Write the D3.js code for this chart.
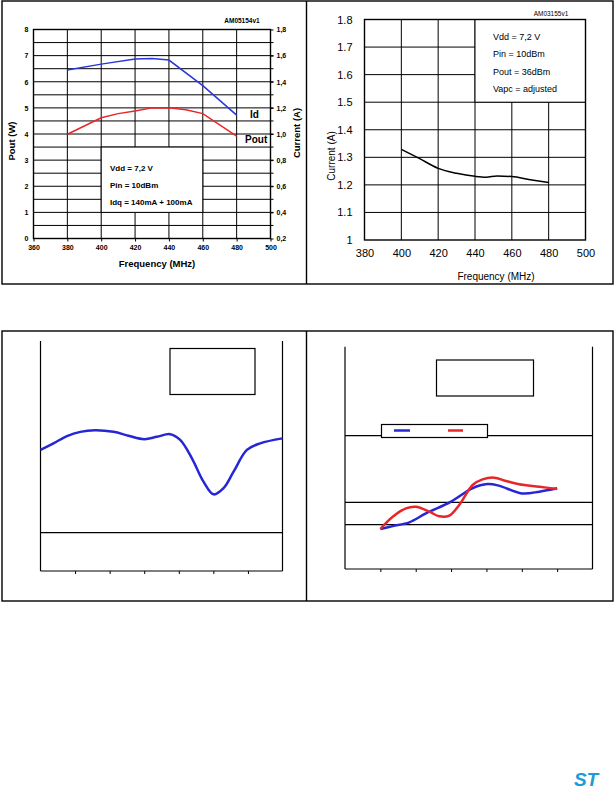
<!DOCTYPE html>
<html>
<head>
<meta charset="utf-8">
<script src="https://cdn.jsdelivr.net/npm/d3@7"></script>
<style>
body { margin: 0; background: #fff; }
svg { display: block; font-family: "Liberation Sans", Arial, sans-serif; }
.frame { fill: none; stroke: #000; stroke-width: 1.4; }
.grid line { stroke: #000; stroke-width: 1; }
.ax text { fill: #000; }
</style>
</head>
<body>
<svg width="615" height="791"></svg>
<script>

// ---- top left: Pout and Id vs frequency ----
var poutFreq = [380, 400, 410, 420, 430, 440, 450, 460, 480];
var poutW    = [3.99, 4.62, 4.78, 4.88, 5.0, 5.0, 4.93, 4.78, 3.92];
var idFreq   = [380, 400, 420, 430, 440, 460, 480];
var idAmp    = [1.49, 1.535, 1.575, 1.578, 1.566, 1.37, 1.145];
var tlXTicks = [360, 380, 400, 420, 440, 460, 480, 500];
var tlWTicks = [0, 1, 2, 3, 4, 5, 6, 7, 8];
var tlATicks = ["0,2", "0,4", "0,6", "0,8", "1,0", "1,2", "1,4", "1,6", "1,8"];
var tlNotes  = ["Vdd = 7,2 V", "Pin = 10dBm", "Idq = 140mA + 100mA"];

// ---- top right: current vs frequency ----
var curFreq  = [400, 410, 420, 430, 440, 446, 452, 460, 470, 480];
var curAmp   = [1.329, 1.295, 1.26, 1.242, 1.231, 1.228, 1.232, 1.23, 1.219, 1.209];
var trXTicks = [380, 400, 420, 440, 460, 480, 500];
var trYTicks = [1, 1.1, 1.2, 1.3, 1.4, 1.5, 1.6, 1.7, 1.8];
var trNotes  = ["Vdd = 7,2 V", "Pin = 10dBm", "Pout = 36dBm", "Vapc = adjusted"];

// ---- bottom left (labels missing in source) ----
var blFreq  = [380, 387.5, 395.3, 403, 411.6, 422.2, 430.9, 440, 447.3, 455, 460.8, 467.6, 474.3, 480.1, 485.9, 491.7, 499.4, 507.1, 520];
var blVal   = [31.6, 33.3, 35.2, 36.3, 36.7, 36.3, 35.3, 34.4, 35.0, 35.7, 34.2, 29.4, 23.3, 20.0, 21.6, 25.9, 31.6, 33.3, 34.6];
var blLines = [10];

// ---- bottom right (labels missing in source) ----
var brBlueFreq = [400, 407, 416.4, 425.8, 440, 452, 460.6, 467, 480, 490, 500];
var brBlue     = [1.8, 1.93, 2.1, 2.5, 3.03, 3.63, 3.82, 3.75, 3.4, 3.48, 3.63];
var brRedFreq  = [400, 407, 414.5, 420, 427.7, 433.3, 439, 444.6, 452.2, 457.8, 464.4, 471, 478.5, 490, 500];
var brRed      = [1.8, 2.35, 2.73, 2.8, 2.58, 2.37, 2.4, 2.88, 3.78, 4.03, 4.11, 3.96, 3.81, 3.7, 3.6];
var brLines    = [2, 3, 6];
var bXTicks    = [400, 420, 440, 460, 480, 500];

var svg = d3.select("svg");
svg.append("rect").attr("width", 615).attr("height", 791).attr("fill", "#fff");

function zip(a, b) { return a.map(function(v, i) { return [v, b[i]]; }); }

// outer frames
[[1, 284], [331, 601]].forEach(function(r) {
  svg.append("rect").attr("class", "frame")
    .attr("x", 2).attr("y", r[0]).attr("width", 611).attr("height", r[1] - r[0]);
  svg.append("line").attr("class", "frame")
    .attr("x1", 306.5).attr("x2", 306.5).attr("y1", r[0]).attr("y2", r[1]);
});

// ================= top left =================
(function() {
  var x = d3.scaleLinear().domain([360, 500]).range([33.5, 270.5]);
  var yW = d3.scaleLinear().domain([0, 8]).range([238.5, 29.5]);
  var yA = d3.scaleLinear().domain([0.2, 1.8]).range([238.5, 29.5]);
  var g = svg.append("g");

  var grid = g.append("g").attr("class", "grid");
  grid.selectAll(".h").data(d3.range(0.5, 8, 0.5)).enter().append("line")
    .attr("x1", x(360)).attr("x2", x(500) + 3)
    .attr("y1", function(d) { return yW(d); }).attr("y2", function(d) { return yW(d); });
  grid.selectAll(".v").data(tlXTicks.slice(1, -1)).enter().append("line")
    .attr("y1", yW(0)).attr("y2", yW(8))
    .attr("x1", function(d) { return x(d); }).attr("x2", function(d) { return x(d); });

  // notes box
  g.append("rect").attr("x", x(400)).attr("y", yW(3.5))
    .attr("width", x(460) - x(400)).attr("height", yW(1) - yW(3.5))
    .attr("fill", "#fff").attr("stroke", "#000");
  g.selectAll(".note").data(tlNotes).enter().append("text")
    .attr("x", 110).attr("y", function(d, i) { return 171 + i * 17; })
    .attr("font-size", 8).attr("font-weight", "bold").text(function(d) { return d; });

  g.append("rect").attr("class", "frame").attr("x", x(360)).attr("y", yW(8))
    .attr("width", x(500) - x(360)).attr("height", yW(0) - yW(8));

  var axB = g.append("g").attr("class", "ax").attr("transform", "translate(0," + yW(0) + ")")
    .call(d3.axisBottom(x).tickValues(tlXTicks).tickSize(3).tickPadding(4));
  var axL = g.append("g").attr("class", "ax").attr("transform", "translate(" + x(360) + ",0)")
    .call(d3.axisLeft(yW).tickValues(tlWTicks).tickSize(0).tickPadding(5));
  var axR = g.append("g").attr("class", "ax").attr("transform", "translate(" + x(500) + ",0)")
    .call(d3.axisRight(yA).tickValues(d3.range(0.2, 1.81, 0.2))
      .tickFormat(function(d, i) { return tlATicks[i]; }).tickSize(3).tickPadding(3));
  [axB, axL, axR].forEach(function(a) {
    a.select(".domain").remove();
    a.selectAll("text").attr("font-size", 7).attr("font-weight", "bold");
  });

  var line = d3.line().x(function(d) { return x(d[0]); });
  g.append("path").datum(zip(idFreq, idAmp))
    .attr("d", line.y(function(d) { return yA(d[1]); }))
    .attr("fill", "none").attr("stroke", "#2a36d8").attr("stroke-width", 1.5);
  g.append("path").datum(zip(poutFreq, poutW))
    .attr("d", line.y(function(d) { return yW(d[1]); }))
    .attr("fill", "none").attr("stroke", "#e8262a").attr("stroke-width", 1.5);

  g.append("text").attr("x", 250).attr("y", 118).attr("font-size", 10)
    .attr("font-weight", "bold").text("Id");
  g.append("text").attr("x", 245).attr("y", 143).attr("font-size", 10)
    .attr("font-weight", "bold").text("Pout");
  g.append("text").attr("x", 242).attr("y", 23).attr("font-size", 6.5)
    .attr("font-weight", "bold").attr("text-anchor", "middle").text("AM05154v1");
  g.append("text").attr("x", 157).attr("y", 267).attr("font-size", 9.5)
    .attr("font-weight", "bold").attr("text-anchor", "middle").text("Frequency (MHz)");
  g.append("text").attr("transform", "translate(15,141) rotate(-90)").attr("font-size", 9.5)
    .attr("font-weight", "bold").attr("text-anchor", "middle").text("Pout (W)");
  g.append("text").attr("transform", "translate(300,133) rotate(-90)").attr("font-size", 9.5)
    .attr("font-weight", "bold").attr("text-anchor", "middle").text("Current (A)");
})();

// ================= top right =================
(function() {
  var x = d3.scaleLinear().domain([380, 500]).range([364.5, 585.5]);
  var y = d3.scaleLinear().domain([1, 1.8]).range([240, 19.5]);
  var g = svg.append("g");

  var grid = g.append("g").attr("class", "grid");
  grid.selectAll(".h").data(trYTicks.slice(1, -1)).enter().append("line")
    .attr("x1", x(380)).attr("x2", x(500))
    .attr("y1", function(d) { return y(d); }).attr("y2", function(d) { return y(d); });
  grid.selectAll(".v").data(trXTicks.slice(1, -1)).enter().append("line")
    .attr("y1", y(1)).attr("y2", y(1.8))
    .attr("x1", function(d) { return x(d); }).attr("x2", function(d) { return x(d); });

  g.append("rect").attr("x", x(440)).attr("y", y(1.8))
    .attr("width", x(500) - x(440)).attr("height", y(1.5) - y(1.8))
    .attr("fill", "#fff").attr("stroke", "#000");
  g.selectAll(".note").data(trNotes).enter().append("text")
    .attr("x", 493).attr("y", function(d, i) { return 39.5 + i * 17.5; })
    .attr("font-size", 9).text(function(d) { return d; });

  g.append("rect").attr("class", "frame").attr("x", x(380)).attr("y", y(1.8))
    .attr("width", x(500) - x(380)).attr("height", y(1) - y(1.8));

  var axB = g.append("g").attr("class", "ax").attr("transform", "translate(0," + y(1) + ")")
    .call(d3.axisBottom(x).tickValues(trXTicks).tickSize(0).tickPadding(9));
  var axL = g.append("g").attr("class", "ax").attr("transform", "translate(" + x(380) + ",0)")
    .call(d3.axisLeft(y).tickValues(trYTicks)
      .tickFormat(function(d) { return String(+d.toFixed(1)); }).tickSize(0).tickPadding(12));
  [axB, axL].forEach(function(a) {
    a.select(".domain").remove();
    a.selectAll("text").attr("font-size", 11);
  });

  g.append("path").datum(zip(curFreq, curAmp))
    .attr("d", d3.line().curve(d3.curveMonotoneX)
      .x(function(d) { return x(d[0]); }).y(function(d) { return y(d[1]); }))
    .attr("fill", "none").attr("stroke", "#000").attr("stroke-width", 1.5);

  g.append("text").attr("x", 551).attr("y", 16).attr("font-size", 6.5)
    .attr("text-anchor", "middle").text("AM03155v1");
  g.append("text").attr("x", 496).attr("y", 280).attr("font-size", 10)
    .attr("text-anchor", "middle").text("Frequency (MHz)");
  g.append("text").attr("transform", "translate(335,156) rotate(-90)").attr("font-size", 10)
    .attr("text-anchor", "middle").text("Current (A)");
})();

// ================= bottom left =================
(function() {
  var x = d3.scaleLinear().domain([380, 520]).range([40.5, 282.5]);
  var y = d3.scaleLinear().domain([0, 60]).range([571, 341]);
  var g = svg.append("g");

  g.selectAll(".h").data(blLines).enter().append("line")
    .attr("x1", x(380)).attr("x2", x(520))
    .attr("y1", function(d) { return y(d); }).attr("y2", function(d) { return y(d); })
    .attr("stroke", "#000").attr("stroke-width", 1.2);
  [380, 520].forEach(function(v) {
    g.append("line").attr("x1", x(v)).attr("x2", x(v)).attr("y1", y(0)).attr("y2", y(60))
      .attr("stroke", "#000").attr("stroke-width", 1.2);
  });
  var axB = g.append("g").attr("transform", "translate(0," + y(0) + ")")
    .call(d3.axisBottom(x).tickValues(bXTicks).tickSize(3).tickFormat(""));
  axB.select(".domain").attr("stroke-width", 1.2);
  axB.selectAll(".domain").attr("d", "M" + x(380) + ",0H" + x(520));

  g.append("rect").attr("x", 170).attr("y", 348.5).attr("width", 85).attr("height", 46)
    .attr("fill", "#fff").attr("stroke", "#000").attr("stroke-width", 1.2);

  g.append("path").datum(zip(blFreq, blVal))
    .attr("d", d3.line().curve(d3.curveCatmullRom)
      .x(function(d) { return x(d[0]); }).y(function(d) { return y(d[1]); }))
    .attr("fill", "none").attr("stroke", "#2626d6").attr("stroke-width", 2.5);
})();

// ================= bottom right =================
(function() {
  var x = d3.scaleLinear().domain([380, 520]).range([345, 592.5]);
  var y = d3.scaleLinear().domain([0, 10]).range([569, 346.7]);
  var g = svg.append("g");

  g.selectAll(".h").data(brLines).enter().append("line")
    .attr("x1", x(380)).attr("x2", x(520))
    .attr("y1", function(d) { return y(d); }).attr("y2", function(d) { return y(d); })
    .attr("stroke", "#000").attr("stroke-width", 1.2);
  [380, 520].forEach(function(v) {
    g.append("line").attr("x1", x(v)).attr("x2", x(v)).attr("y1", y(0)).attr("y2", y(10))
      .attr("stroke", "#000").attr("stroke-width", 1.2);
  });
  var axB = g.append("g").attr("transform", "translate(0," + y(0) + ")")
    .call(d3.axisBottom(x).tickValues(bXTicks).tickSize(3).tickFormat(""));
  axB.selectAll(".domain").attr("d", "M" + x(380) + ",0H" + x(520)).attr("stroke-width", 1.2);

  g.append("rect").attr("x", 436.5).attr("y", 360).attr("width", 97).attr("height", 36)
    .attr("fill", "#fff").attr("stroke", "#000").attr("stroke-width", 1.2);

  // legend
  g.append("rect").attr("x", 381.5).attr("y", 424.5).attr("width", 106).attr("height", 13)
    .attr("fill", "#fff").attr("stroke", "#000").attr("stroke-width", 1.2);
  g.append("line").attr("x1", 394).attr("x2", 410).attr("y1", 430.5).attr("y2", 430.5)
    .attr("stroke", "#2626d6").attr("stroke-width", 2.5);
  g.append("line").attr("x1", 448).attr("x2", 463).attr("y1", 430.5).attr("y2", 430.5)
    .attr("stroke", "#e8262a").attr("stroke-width", 2.5);

  var line = d3.line().curve(d3.curveCatmullRom)
    .x(function(d) { return x(d[0]); }).y(function(d) { return y(d[1]); });
  g.append("path").datum(zip(brBlueFreq, brBlue)).attr("d", line)
    .attr("fill", "none").attr("stroke", "#2626d6").attr("stroke-width", 2.5);
  g.append("path").datum(zip(brRedFreq, brRed)).attr("d", line)
    .attr("fill", "none").attr("stroke", "#e8262a").attr("stroke-width", 2.5);
})();

// ST logo
svg.append("text").attr("x", 574).attr("y", 786).attr("font-size", 19)
  .attr("font-weight", "bold").attr("font-style", "italic").attr("fill", "#1d9ad8")
  .attr("textLength", 24).text("ST");

</script>
</body>
</html>
